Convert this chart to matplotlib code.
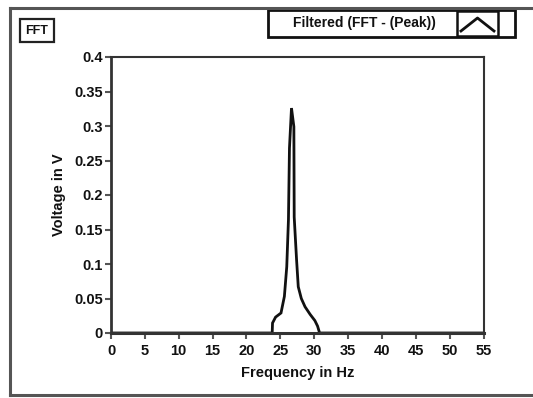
import matplotlib
matplotlib.use("Agg")
import matplotlib.pyplot as plt
from matplotlib.patches import Rectangle
from matplotlib.lines import Line2D

# FFT magnitude (Hz, V)
freq_hz = [0, 23.8, 23.85, 24.3, 25.1, 25.6, 25.95, 26.2, 26.35, 26.65,
           27.0, 27.05, 27.4, 27.65, 28.1, 28.65, 29.4, 30.1, 30.5, 30.8, 55]
volt_v = [0, 0, 0.0145, 0.023, 0.029, 0.053, 0.096, 0.164, 0.268, 0.326,
          0.299, 0.168, 0.106, 0.067, 0.05, 0.038, 0.027, 0.018, 0.01, 0, 0]

x_ticks = list(range(0, 56, 5))
y_ticks = [0, 0.05, 0.1, 0.15, 0.2, 0.25, 0.3, 0.35, 0.4]
y_tick_labels = ["0", "0.05", "0.1", "0.15", "0.2", "0.25", "0.3", "0.35", "0.4"]

plt.rcParams["font.family"] = ["Liberation Sans", "DejaVu Sans"]
plt.rcParams["font.weight"] = "bold"

W, H = 533, 398
fig = plt.figure(figsize=(W / 100, H / 100), dpi=100)
fig.patch.set_facecolor("white")


def fx(px):
    return px / W


def fy(py):
    return 1 - py / H


ax = fig.add_axes([fx(111), fy(333), fx(483.5) - fx(111), fy(57) - fy(333)])
ax.plot(freq_hz, volt_v, color="#111111", linewidth=2.0, solid_joinstyle="miter")
ax.set_xlim(0, 55)
ax.set_ylim(0, 0.4)
ax.set_xticks(x_ticks)
ax.set_xticklabels([str(t) for t in x_ticks])
ax.set_yticks(y_ticks)
ax.set_yticklabels(y_tick_labels)
ax.tick_params(direction="out", length=4, width=1.5, color="#555555",
               labelsize=10.5, pad=2, labelcolor="#111111")
ax.tick_params(axis="x", pad=4)
for side in ["left", "bottom", "top", "right"]:
    ax.spines[side].set_color("#333333")
    ax.spines[side].set_linewidth(1.5)
ax.spines["bottom"].set_linewidth(2.2)
ax.spines["left"].set_linewidth(2.0)
ax.set_xlabel("Frequency in Hz", fontsize=10.5, fontweight="bold",
              labelpad=6, color="#111111")
ax.set_ylabel("Voltage in V", fontsize=10.5, fontweight="bold",
              labelpad=6, color="#111111")

# outer panel frame (open on the right)
frame_kw = dict(color="#555555", linewidth=2.2, transform=fig.transFigure)
fig.add_artist(Line2D([fx(10), 1.0], [fy(8), fy(8)], **frame_kw))
fig.add_artist(Line2D([fx(10), fx(10)], [fy(8), fy(395)], **frame_kw))
fig.add_artist(Line2D([fx(10), 1.0], [fy(395), fy(395)], **frame_kw))

# "FFT" caption box
fig.add_artist(Rectangle((fx(20), fy(42)), fx(54) - fx(20), fy(19) - fy(42),
                         transform=fig.transFigure, fill=False,
                         edgecolor="#222222", linewidth=1.6))
fig.text(fx(37), fy(30.5), "FFT", fontsize=9, ha="center", va="center",
         color="#111111")

# plot legend box
fig.add_artist(Rectangle((fx(268), fy(37)), fx(515) - fx(268), fy(10) - fy(37),
                         transform=fig.transFigure, fill=False,
                         edgecolor="#111111", linewidth=2.0))
fig.add_artist(Rectangle((fx(457), fy(36)), fx(498) - fx(457), fy(11) - fy(36),
                         transform=fig.transFigure, fill=False,
                         edgecolor="#111111", linewidth=1.8))
fig.add_artist(Line2D([fx(461), fx(477.5), fx(494)], [fy(31), fy(18), fy(31)],
                      color="#111111", linewidth=2.0, transform=fig.transFigure))
fig.text(fx(364), fy(23.5), "Filtered (FFT - (Peak))", fontsize=10,
         ha="center", va="center", color="#111111")

fig.savefig("out.png", dpi=100)
